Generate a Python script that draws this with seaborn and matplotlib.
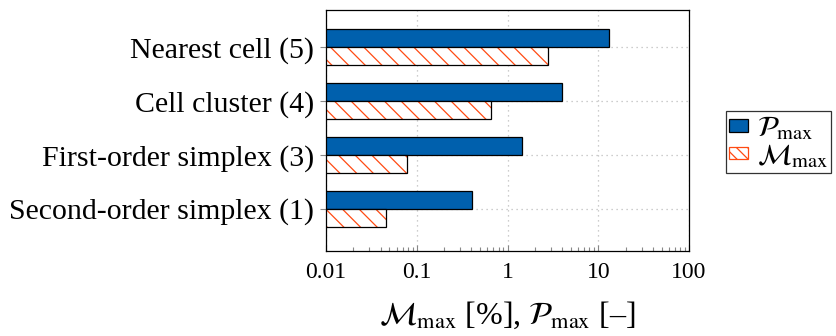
import matplotlib
matplotlib.use("Agg")
import matplotlib.pyplot as plt
from matplotlib.patches import Patch, Rectangle
from matplotlib.ticker import LogLocator, NullFormatter, FixedLocator, FixedFormatter
import pandas as pd
import seaborn as sns

# Interpolation methods (number of support points in brackets)
methods = [
    "Nearest cell (5)",
    "Cell cluster (4)",
    "First-order simplex (3)",
    "Second-order simplex (1)",
]
p_max = [13.2, 3.95, 1.44, 0.406]      # P_max [-]
m_max = [2.77, 0.664, 0.0787, 0.0454]  # M_max [%]
series = [r"$\mathcal{P}_{\mathrm{max}}$", r"$\mathcal{M}_{\mathrm{max}}$"]
xticks = [0.01, 0.1, 1, 10, 100]
xtick_labels = ["0.01", "0.1", "1", "10", "100"]
xlabel = r"$\mathcal{M}_{\mathrm{max}}$ [%], $\mathcal{P}_{\mathrm{max}}$ [–]"

BLUE = "#0060AD"
ORANGE = "#FF4A12"

sns.set_theme(style="white")
plt.rcParams["font.family"] = ["Liberation Serif", "DejaVu Serif"]
plt.rcParams["mathtext.fontset"] = "stix"
plt.rcParams["hatch.linewidth"] = 0.9
for key in ("text.color", "axes.labelcolor", "xtick.labelcolor", "ytick.labelcolor"):
    plt.rcParams[key] = "black"

df = pd.DataFrame({
    "method": methods * 2,
    "value": p_max + m_max,
    "series": [series[0]] * len(methods) + [series[1]] * len(methods),
})

fig = plt.figure(figsize=(8.36, 3.36), dpi=100)
ax = fig.add_axes([326 / 836, 1 - 251 / 336, (689 - 326) / 836, (251 - 10) / 336])
ax.set_xscale("log")

sns.barplot(
    data=df, y="method", x="value", hue="series",
    order=methods, hue_order=series,
    palette=[BLUE, "white"], saturation=1, width=0.67,
    edgecolor="black", linewidth=0.9, legend=False, ax=ax,
)

# Hatched second series: orange hatch, black outline drawn on top
for bar in ax.containers[1]:
    bar.set_facecolor("white")
    bar.set_edgecolor(ORANGE)
    bar.set_linewidth(0)
    bar.set_hatch("\\\\")
    ax.add_patch(Rectangle((bar.get_x(), bar.get_y()), bar.get_width(), bar.get_height(),
                           fill=False, edgecolor="black", linewidth=0.9, zorder=bar.get_zorder() + 0.1))

ax.set_xlim(0.01, 100)
ax.set_ylim(3.786, -0.693)

ax.xaxis.set_major_locator(FixedLocator(xticks))
ax.xaxis.set_major_formatter(FixedFormatter(xtick_labels))
ax.xaxis.set_minor_locator(LogLocator(base=10, subs=range(2, 10)))
ax.xaxis.set_minor_formatter(NullFormatter())

ax.grid(True, which="major", linestyle=(0, (1, 3)), color="#bdbdbd", linewidth=0.9)
ax.set_axisbelow(True)

for sp in ax.spines.values():
    sp.set_color("black")
    sp.set_linewidth(0.9)

ax.tick_params(axis="x", which="major", direction="in", length=4.5, width=0.8,
               color="#888888", bottom=True, top=False, labelsize=17, pad=8,
               labelcolor="black")
ax.tick_params(axis="x", which="minor", direction="in", length=2.8, width=0.8,
               color="#888888", bottom=True, top=False)
ax.tick_params(axis="y", which="major", direction="out", length=4.5, width=0.8,
               color="#888888", left=True, labelsize=21.5, pad=4, labelcolor="black")

ax.set_ylabel("")
ax.set_xlabel(xlabel, fontsize=23, labelpad=12, color="black")

handles = [
    Patch(facecolor=BLUE, edgecolor="black", linewidth=0.9, label=series[0]),
    Patch(facecolor="white", edgecolor=ORANGE, hatch="\\\\\\", linewidth=0.9, label=series[1]),
]
leg = fig.legend(handles=handles, loc="upper left", bbox_to_anchor=(726 / 836, 1 - 111 / 336),
                 frameon=True, fancybox=False, fontsize=21, handlelength=0.65, handleheight=0.28,
                 handletextpad=0.3, borderpad=0.1, labelspacing=0.0, borderaxespad=0)
leg.get_frame().set_edgecolor("black")
leg.get_frame().set_linewidth(0.9)

fig.savefig("out.png", dpi=100)
